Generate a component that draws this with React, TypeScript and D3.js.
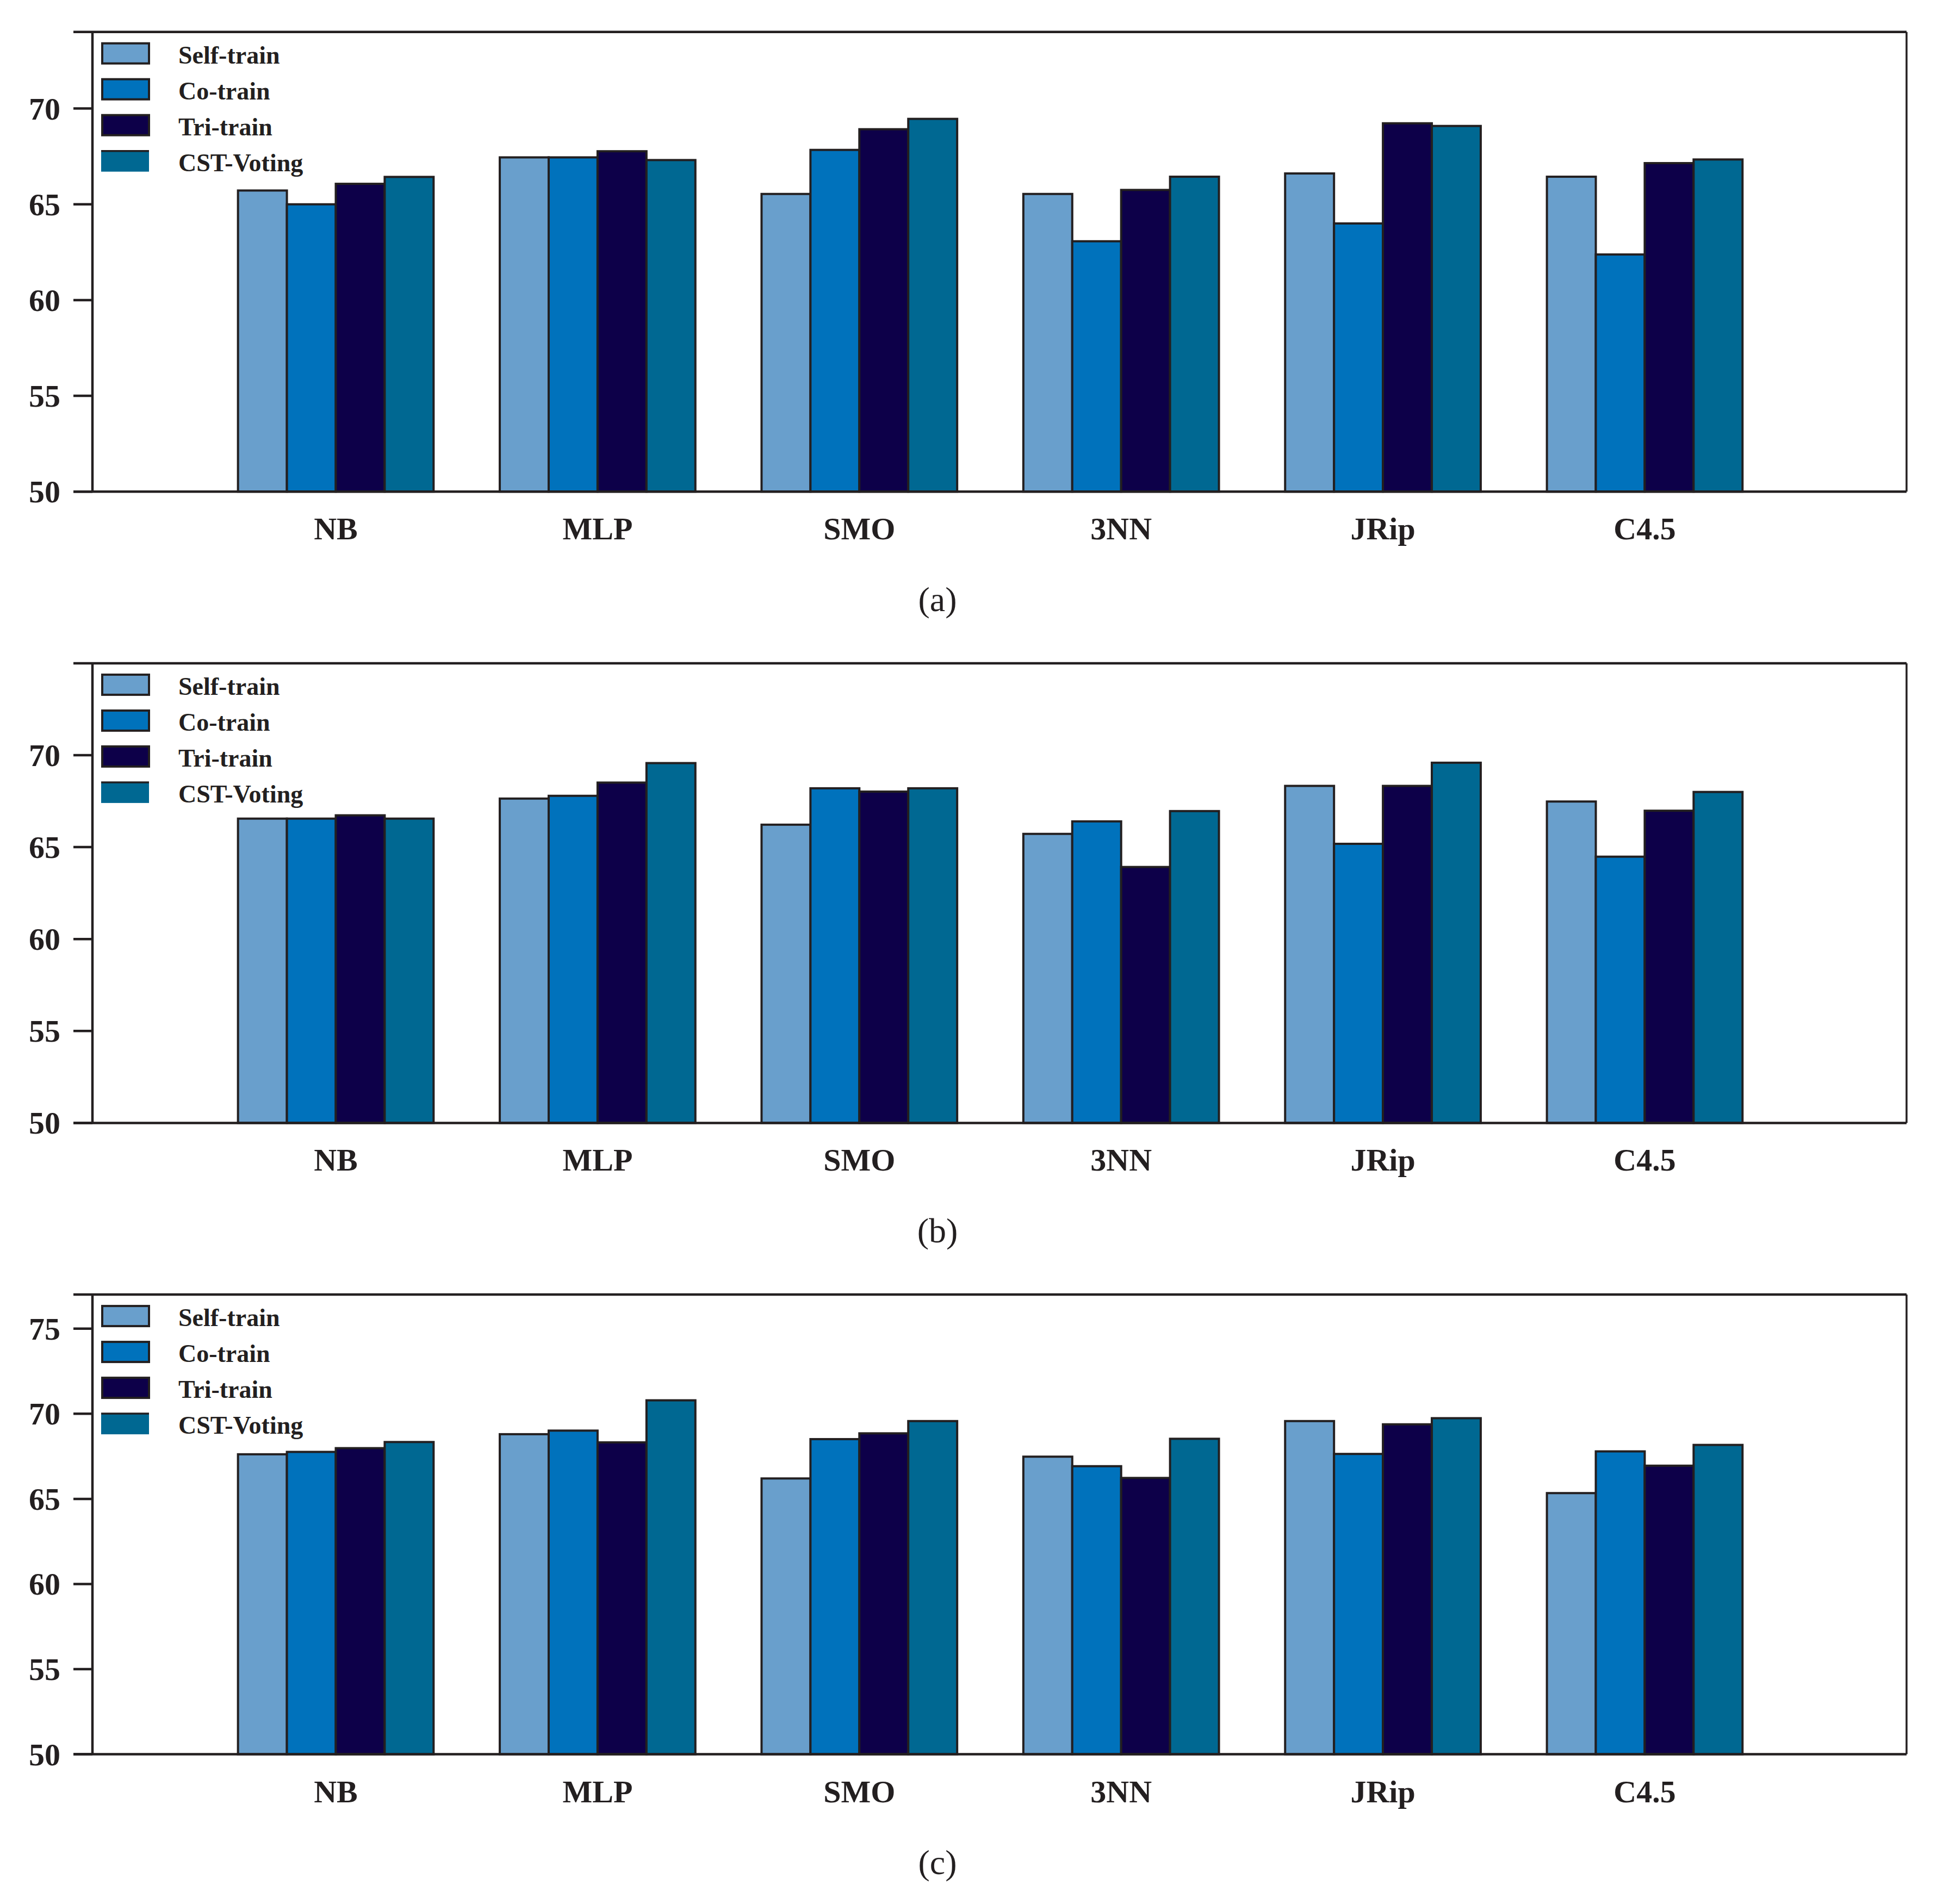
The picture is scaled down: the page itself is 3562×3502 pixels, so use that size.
import React from "react";
import * as d3 from "d3";

const categories = ["NB", "MLP", "SMO", "3NN", "JRip", "C4.5"];
const seriesNames = ["Self-train", "Co-train", "Tri-train", "CST-Voting"];
const seriesColors = ["#699FCC", "#0072BC", "#0D0049", "#006892"];

// panel (a)
const selfA = [65.72, 67.45, 65.54, 65.54, 66.61, 66.44];
const coA = [65.0, 67.45, 67.84, 63.07, 64.0, 62.38];
const triA = [66.07, 67.77, 68.92, 65.75, 69.23, 67.15];
const cstA = [66.43, 67.31, 69.46, 66.44, 69.09, 67.34];

// panel (b)
const selfB = [66.55, 67.64, 66.22, 65.72, 68.33, 67.48];
const coB = [66.55, 67.79, 68.2, 66.4, 65.18, 64.48];
const triB = [66.73, 68.51, 68.02, 63.92, 68.33, 66.98];
const cstB = [66.55, 69.57, 68.2, 66.96, 69.59, 68.0];

// panel (c)
const selfC = [67.62, 68.8, 66.2, 67.48, 69.57, 65.34];
const coC = [67.76, 69.01, 68.51, 66.92, 67.64, 67.79];
const triC = [67.98, 68.32, 68.85, 66.23, 69.38, 66.95];
const cstC = [68.34, 70.79, 69.57, 68.53, 69.74, 68.17];

const yMaxes = [74, 75, 77];
const yTicksA = [50, 55, 60, 65, 70];
const yTicksB = [50, 55, 60, 65, 70];
const yTicksC = [50, 55, 60, 65, 70, 75];
const captions = ["(a)", "(b)", "(c)"];

const panels = [
  { series: [selfA, coA, triA, cstA], yMax: yMaxes[0], ticks: yTicksA, caption: captions[0] },
  { series: [selfB, coB, triB, cstB], yMax: yMaxes[1], ticks: yTicksB, caption: captions[1] },
  { series: [selfC, coC, triC, cstC], yMax: yMaxes[2], ticks: yTicksC, caption: captions[2] },
];

const W = 3562;
const H = 3502;
const AX_LEFT = 170;
const AX_RIGHT = 3506;
const PLOT_H = 845.5;
const PANEL_TOP0 = 58.7;
const PANEL_STEP = 1161.2;
const STROKE = "#231F20";
const BOLD_FONT = "'Liberation Serif', 'Times New Roman', serif";

const xCenter = d3.scalePoint<string>().domain(categories).range([617.5, 3024.5]);
const groupW = 359.7;
const xInner = d3.scaleBand<string>().domain(seriesNames).range([-groupW / 2, groupW / 2]).padding(0);

function Panel({ idx }: { idx: number }) {
  const p = panels[idx];
  const top = PANEL_TOP0 + idx * PANEL_STEP;
  const bottom = top + PLOT_H;
  const y = d3.scaleLinear().domain([50, p.yMax]).range([bottom, top]);
  return (
    <g>
      {/* bars */}
      {categories.map((c, ci) => (
        <g key={c}>
          {seriesNames.map((s, si) => {
            const v = p.series[si][ci];
            const x0 = (xCenter(c) as number) + (xInner(s) as number);
            return (
              <rect
                key={s}
                x={x0}
                y={y(v)}
                width={xInner.bandwidth()}
                height={bottom - y(v)}
                fill={seriesColors[si]}
                stroke={STROKE}
                strokeWidth={4}
              />
            );
          })}
        </g>
      ))}
      {/* frame */}
      <line x1={135} x2={AX_RIGHT} y1={top} y2={top} stroke={STROKE} strokeWidth={4.5} />
      <line x1={135} x2={AX_RIGHT} y1={bottom} y2={bottom} stroke={STROKE} strokeWidth={4.5} />
      <line x1={AX_LEFT} x2={AX_LEFT} y1={top} y2={bottom} stroke={STROKE} strokeWidth={4.5} />
      <line x1={AX_RIGHT} x2={AX_RIGHT} y1={top} y2={bottom} stroke={STROKE} strokeWidth={3.5} />
      {/* y ticks */}
      {p.ticks.map((t) => (
        <g key={t}>
          <line x1={135} x2={AX_LEFT} y1={y(t)} y2={y(t)} stroke={STROKE} strokeWidth={4.5} />
          <text
            x={111}
            y={y(t) + 20}
            textAnchor="end"
            fontFamily={BOLD_FONT}
            fontWeight="bold"
            fontSize={58}
            fill={STROKE}
          >
            {t}
          </text>
        </g>
      ))}
      {/* category labels */}
      {categories.map((c) => (
        <text
          key={c}
          x={xCenter(c) as number}
          y={bottom + 88}
          textAnchor="middle"
          fontFamily={BOLD_FONT}
          fontWeight="bold"
          fontSize={58}
          fill={STROKE}
        >
          {c}
        </text>
      ))}
      {/* legend */}
      {seriesNames.map((s, si) => {
        const sy = top + 21 + si * 66;
        return (
          <g key={s}>
            {si < 3 ? (
              <rect x={188} y={sy} width={86} height={37} fill={seriesColors[si]} stroke={STROKE} strokeWidth={4} />
            ) : (
              <g>
                <rect x={186} y={sy} width={88} height={38} fill={seriesColors[si]} />
                <line x1={186} x2={274} y1={sy} y2={sy} stroke={STROKE} strokeWidth={3.5} />
              </g>
            )}
            <text
              x={328}
              y={sy + 37}
              fontFamily={BOLD_FONT}
              fontWeight="bold"
              fontSize={46}
              fill={STROKE}
            >
              {s}
            </text>
          </g>
        );
      })}
      {/* caption */}
      <text
        x={1724}
        y={top + 1065.5}
        textAnchor="middle"
        fontFamily="'Liberation Serif', serif"
        fontSize={64}
        fill={STROKE}
      >
        {p.caption}
      </text>
    </g>
  );
}

export default function App() {
  return (
    <svg
      width={W}
      height={H}
      viewBox={`0 0 ${W} ${H}`}
      style={{ position: "absolute", left: 0, top: 0, background: "#fff" }}
    >
      <rect x={0} y={0} width={W} height={H} fill="#fff" />
      {panels.map((_, i) => (
        <Panel key={i} idx={i} />
      ))}
    </svg>
  );
}
